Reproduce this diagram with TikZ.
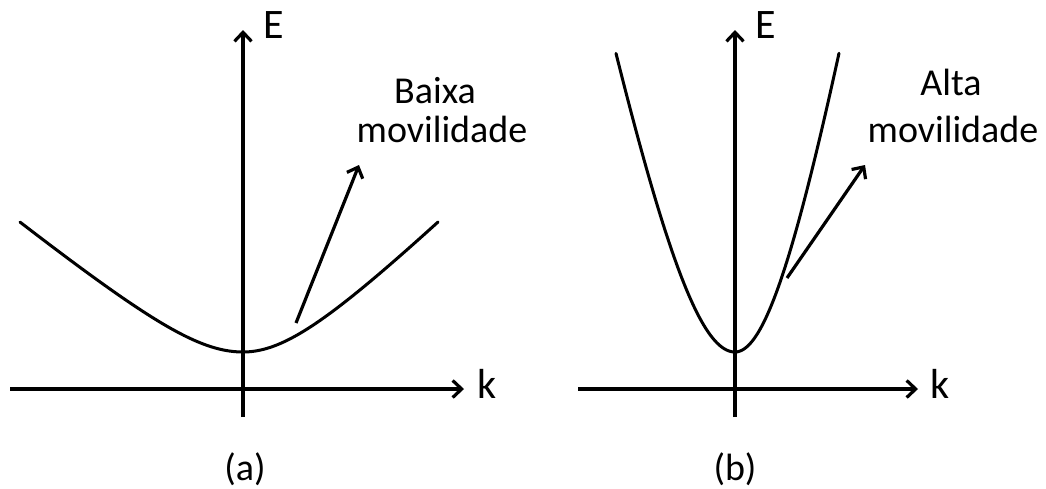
\documentclass[tikz,border=0pt]{standalone}
\usepackage{fontspec}
\setmainfont{Carlito}
\usetikzlibrary{arrows.meta}
\tikzset{
  axis/.style={line width=3.2pt, -{Straight Barb[length=9pt,width=17pt]}},
  band/.style={line width=3pt, line cap=round},
  pointer/.style={line width=3.2pt, -{Straight Barb[length=9pt,width=17pt]}},
  lbl/.style={inner sep=0pt, anchor=base, font=\fontsize{38}{39}\selectfont},
  axlbl/.style={inner sep=0pt, anchor=base, font=\fontsize{42}{44}\selectfont},
}
\begin{document}
\begin{tikzpicture}[x=1pt,y=-1pt]
\useasboundingbox (0,0) rectangle (1046,488);
% ---------- panel (a)
\coordinate (a-xs) at (10,389);
\coordinate (a-xe) at (464,389);
\coordinate (a-ys) at (243,417);
\coordinate (a-ye) at (243,30);
\draw[axis] (a-xs) -- (a-xe);
\draw[axis] (a-ys) -- (a-ye);
\draw[band] plot[domain=-223:0, samples=80] ({243+\x}, {352 - 60.8*(sqrt(1+(\x/75)*(\x/75))-1)});
\draw[band] plot[domain=0:195, samples=80] ({243+\x}, {352 - 72.8*(sqrt(1+(\x/75)*(\x/75))-1)});
\coordinate (a-ps) at (296,323);
\coordinate (a-pe) at (359,165);
\draw[pointer] (a-ps) -- (a-pe);
\node[axlbl] (a-E) at (274,38) {E};
\node[axlbl] (a-k) at (487,398) {k};
\node[lbl] (a-t1) at (435,103) {Baixa};
\node[lbl] (a-t2) at (442,142) {movilidade};
\node[lbl] (a-cap) at (245,480) {(a)};
% ---------- panel (b)
\coordinate (b-xs) at (578,389);
\coordinate (b-xe) at (918,389);
\coordinate (b-ys) at (735,417);
\coordinate (b-ye) at (735,30);
\draw[axis] (b-xs) -- (b-xe);
\draw[axis] (b-ys) -- (b-ye);
\draw[band] plot[domain=-119:0, samples=80] ({735+\x}, {352 - 430*(sqrt(1+(\x/87)*(\x/87))-1)});
\draw[band] plot[domain=0:104, samples=80] ({735+\x}, {352 - 430*(sqrt(1+(\x/76)*(\x/76))-1)});
\coordinate (b-ps) at (787,278);
\coordinate (b-pe) at (865,165);
\draw[pointer] (b-ps) -- (b-pe);
\node[axlbl] (b-E) at (766,38) {E};
\node[axlbl] (b-k) at (940,398) {k};
\node[lbl] (b-t1) at (951,95) {Alta};
\node[lbl] (b-t2) at (953,142) {movilidade};
\node[lbl] (b-cap) at (735,480) {(b)};
\end{tikzpicture}
\end{document}
